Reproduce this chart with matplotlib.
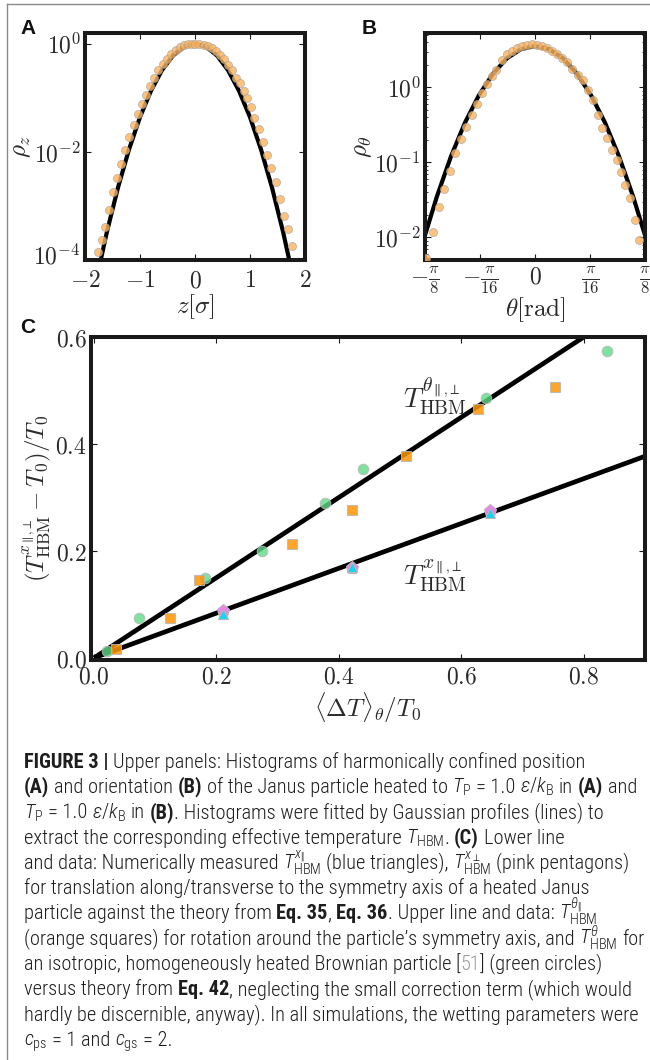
import numpy as np
import matplotlib
matplotlib.use("Agg")
import matplotlib.pyplot as plt
from matplotlib import font_manager as fm
from matplotlib.lines import Line2D
from matplotlib.transforms import ScaledTranslation
from matplotlib.ticker import NullLocator, NullFormatter, LogLocator

# ---------------- data ----------------
# Panel A: histogram of z (orange dots) and Gaussian fit (black line)
a_z = [-1.772, -1.698, -1.635, -1.561, -1.494, -1.420, -1.346, -1.265, -1.191, -1.117,
       -1.037, -0.969, -0.894, -0.820, -0.741, -0.667, -0.587, -0.513, -0.431, -0.352,
       -0.278, -0.204, -0.124, -0.050,
       0.007, 0.081, 0.155, 0.229, 0.303, 0.377, 0.451, 0.525, 0.605, 0.679,
       0.753, 0.815, 0.883, 0.944, 1.019, 1.080, 1.161, 1.235, 1.315, 1.389,
       1.469, 1.543, 1.624, 1.698, 1.759]
a_rho = [1.41e-4, 2.32e-4, 4.07e-4, 8.41e-4, 1.78e-3, 3.24e-3, 6.03e-3, 1.10e-2, 1.86e-2, 3.09e-2,
         4.95e-2, 7.59e-2, 0.1135, 0.166, 0.232, 0.324, 0.424, 0.533, 0.652, 0.783,
         0.879, 0.933, 0.977, 1.0,
         1.0, 0.989, 0.955, 0.902, 0.822, 0.724, 0.617, 0.513, 0.398, 0.324,
         0.234, 0.186, 0.132, 0.0977, 0.0676, 0.0427, 0.0263, 0.0155, 8.71e-3, 5.01e-3,
         2.75e-3, 1.32e-3, 6.61e-4, 3.72e-4, 1.82e-4]
a_fit_z = [-1.8, -1.6, -1.4, -1.2, -1.0, -0.8, -0.6, -0.4, -0.2, 0.0,
           0.2, 0.4, 0.6, 0.8, 1.0, 1.2, 1.4, 1.6, 1.8]
a_fit_rho = [4.0e-5, 3.36e-4, 2.19e-3, 1.11e-2, 0.0440, 0.135, 0.325, 0.607, 0.882, 1.0,
             0.882, 0.607, 0.325, 0.135, 0.0440, 1.11e-2, 2.19e-3, 3.36e-4, 4.0e-5]
a_xticks = [-2, -1, 0, 1, 2]
a_xticklabels = [r"$-2$", r"$-1$", r"$0$", r"$1$", r"$2$"]
a_yticks = [1e-4, 1e-2, 1.0]
a_yticklabels = [r"$10^{-4}$", r"$10^{-2}$", r"$10^{0}$"]

# Panel B: histogram of theta (orange dots) and Gaussian fit
b_theta = [-0.390, -0.363, -0.343, -0.325, -0.304, -0.286, -0.265, -0.246, -0.226, -0.206,
           -0.190, -0.1725, -0.155, -0.139, -0.119, -0.101, -0.083, -0.065, -0.048, -0.030,
           -0.012, 0.006, 0.024, 0.042, 0.060, 0.078, 0.096, 0.114, 0.132, 0.152,
           0.1726, 0.190, 0.208, 0.224, 0.240, 0.256, 0.274, 0.292, 0.306, 0.321,
           0.339, 0.357, 0.372]
b_rho = [5.25e-3, 0.0117, 0.0257, 0.0437, 0.0759, 0.132, 0.204, 0.295, 0.427, 0.603,
         0.832, 1.10, 1.41, 1.72, 2.34, 2.75, 3.09, 3.31, 3.51, 3.67,
         3.76, 3.72, 3.59, 3.35, 3.09, 2.79, 2.45, 2.16, 1.78, 1.48,
         1.26, 0.933, 0.684, 0.427, 0.288, 0.209, 0.148, 0.107, 0.0741, 0.0501,
         0.0331, 0.0170, 9.33e-3]
b_fit_theta = [-0.3927, -0.35, -0.30, -0.25, -0.20, -0.15, -0.10, -0.05, 0.0,
               0.05, 0.10, 0.15, 0.20, 0.25, 0.30, 0.35, 0.3927]
b_fit_rho = [0.0107, 0.0353, 0.120, 0.338, 0.787, 1.52, 2.44, 3.23, 3.55,
             3.23, 2.44, 1.52, 0.787, 0.338, 0.120, 0.0353, 0.0107]
b_xticks = [-np.pi / 8, -np.pi / 16, 0.0, np.pi / 16, np.pi / 8]
b_xticklabels = [r"$-\frac{\pi}{8}$", r"$-\frac{\pi}{16}$", r"$0$", r"$\frac{\pi}{16}$", r"$\frac{\pi}{8}$"]
b_yticks = [1e-2, 1e-1, 1.0]
b_yticklabels = [r"$10^{-2}$", r"$10^{-1}$", r"$10^{0}$"]

# Panel C: effective temperatures vs <dT>_theta / T0
c_green_x = [0.021, 0.074, 0.182, 0.274, 0.378, 0.439, 0.640, 0.838]
c_green_y = [0.012, 0.074, 0.150, 0.200, 0.289, 0.353, 0.486, 0.574]
c_orange_x = [0.036, 0.124, 0.171, 0.323, 0.421, 0.509, 0.628, 0.753]
c_orange_y = [0.017, 0.074, 0.145, 0.213, 0.277, 0.377, 0.465, 0.507]
c_tri_x = [0.211, 0.422, 0.647]
c_tri_y = [0.082, 0.170, 0.271]
c_pent_x = [0.211, 0.422, 0.647]
c_pent_y = [0.087, 0.168, 0.274]
c_line_x = [0.0, 0.9]
c_theta_line = [0.0, 0.675]
c_x_line = [0.0, 0.377]
c_xticks = [0.0, 0.2, 0.4, 0.6, 0.8]
c_xticklabels = [r"$0.0$", r"$0.2$", r"$0.4$", r"$0.6$", r"$0.8$"]
c_yticks = [0.0, 0.2, 0.4, 0.6]
c_yticklabels = [r"$0.0$", r"$0.2$", r"$0.4$", r"$0.6$"]

caption_lines = [
    [("FIGURE 3 |", "b"), (" Upper panels: Histograms of harmonically confined position", "r")],
    [("(A)", "b"), (" and orientation", "r"), (" (B)", "b"), (" of the Janus particle heated to", "r"),
     (r" $T_\mathrm{P}$", "m"), (" = 1.0", "r"), (r" $\epsilon/k_\mathrm{B}$", "m"), (" in", "r"),
     (" (A)", "b"), (" and", "r")],
    [(r"$T_\mathrm{P}$", "m"), (" = 1.0", "r"), (r" $\epsilon/k_\mathrm{B}$", "m"), (" in", "r"),
     (" (B)", "b"), (". Histograms were fitted by Gaussian profiles (lines) to", "r")],
    [("extract the corresponding effective temperature", "r"), (r" $T_\mathrm{HBM}$", "m"),
     (".", "r"), (" (C)", "b"), (" Lower line", "r")],
    [("and data: Numerically measured", "r"), (r" $T_\mathrm{HBM}^{x_\Vert}$", "m"),
     (" (blue triangles),", "r"), (r" $T_\mathrm{HBM}^{x_\perp}$", "m"), (" (pink pentagons)", "r")],
    [("for translation along/transverse to the symmetry axis of a heated Janus", "r")],
    [("particle against the theory from", "r"), (" Eq. 35", "b"), (",", "r"), (" Eq. 36", "b"),
     (". Upper line and data:", "r"), (r" $T_\mathrm{HBM}^{\theta_\Vert}$", "m")],
    [("(orange squares) for rotation around the particle\u2019s symmetry axis, and", "r"),
     (r" $T_\mathrm{HBM}^{\theta}$", "m"), (" for", "r")],
    [("an isotropic, homogeneously heated Brownian particle [", "r"), ("51", "g"),
     ("] (green circles)", "r")],
    [("versus theory from", "r"), (" Eq. 42", "b"),
     (", neglecting the small correction term (which would", "r")],
    [("hardly be discernible, anyway). In all simulations, the wetting parameters were", "r")],
    [(r"$c_\mathrm{ps}$", "m"), (" = 1 and", "r"), (r" $c_\mathrm{gs}$", "m"), (" = 2.", "r")],
]

# ---------------- caption font choice (a condensed sans if one is installed) ----------------
ttf = fm.fontManager.ttflist
names = {f.name for f in ttf}
cap_font, cap_stretch = "Liberation Sans", "normal"
picked = False
for nm in ["Liberation Sans Narrow", "Roboto Condensed", "Open Sans Condensed",
           "Noto Sans Condensed", "Noto Sans SemiCondensed", "Arial Narrow"]:
    if nm in names:
        cap_font, picked = nm, True
        break
if not picked:
    for f in ttf:
        lowname = (f.name + " " + f.fname).lower()
        if (("condensed" in lowname or "narrow" in lowname) and "extra" not in lowname
                and "ultra" not in lowname and f.style == "normal"
                and any(k in f.name for k in ["Noto Sans", "Roboto", "Open Sans", "Liberation"])
                and "CJK" not in f.name and "Mono" not in f.name):
            cap_font = f.name
            cap_stretch = f.stretch if f.stretch != "normal" else "condensed"
            picked = True
            break

plt.rcParams["mathtext.fontset"] = "cm"
plt.rcParams["mathtext.rm"] = cap_font + ":light"
plt.rcParams["mathtext.it"] = cap_font + ":italic:light"
plt.rcParams["mathtext.bf"] = cap_font + ":bold"
plt.rcParams["mathtext.sf"] = cap_font + ":light"

W, H = 650, 1060
fig = plt.figure(figsize=(W / 100, H / 100), dpi=100)
fig.patch.set_facecolor("white")

TXT = "#2b2b2b"
SPINE = "#1a1a1a"


def ax_at(l, t, r, b):
    return fig.add_axes([l / W, 1 - b / H, (r - l) / W, (b - t) / H])


def style(ax, xpad=3):
    for s in ax.spines.values():
        s.set_linewidth(2.9)
        s.set_color(SPINE)
    ax.tick_params(which="both", direction="in", top=True, right=True,
                   color=SPINE, width=0.8, labelsize=17, labelcolor=TXT, pad=3)
    ax.tick_params(axis="x", pad=xpad)
    ax.tick_params(which="major", length=4)
    ax.tick_params(which="minor", length=2, width=0.6)


dot_kw = dict(linestyle="none", marker="o", ms=5.8, mfc="#fdb35c", mec="#a0a0a0",
              mew=0.5, alpha=0.8, zorder=3)

# Panel A
axA = ax_at(85, 33, 305, 260)
axA.plot(a_fit_z, a_fit_rho, color="k", lw=3.0, zorder=2)
axA.plot(a_z, a_rho, **dot_kw)
axA.set_yscale("log")
axA.set_xlim(-2, 2)
axA.set_ylim(1e-4, 10 ** 0.2)
axA.set_xticks(a_xticks, labels=a_xticklabels)
axA.set_yticks(a_yticks, labels=a_yticklabels)
axA.yaxis.set_minor_locator(NullLocator())
style(axA, xpad=6)
# lift the lowest y label a little so it clears the "-2" x label (as in the reference)
lowlab = axA.get_yticklabels()[0]
lowlab.set_transform(lowlab.get_transform() + ScaledTranslation(0, 4 / 72, fig.dpi_scale_trans))
axA.set_xlabel(r"$z[\sigma]$", fontsize=18, color=TXT, labelpad=0)
axA.set_ylabel(r"$\rho_z$", fontsize=18, color=TXT, labelpad=0)

# Panel B
axB = ax_at(425, 33, 645, 260)
axB.plot(b_fit_theta, b_fit_rho, color="k", lw=3.0, zorder=2)
axB.plot(b_theta, b_rho, **dot_kw)
axB.set_yscale("log")
axB.set_xlim(-np.pi / 8, np.pi / 8)
axB.set_ylim(0.005, 5.3)
axB.set_xticks(b_xticks, labels=b_xticklabels)
axB.set_yticks(b_yticks, labels=b_yticklabels)
axB.yaxis.set_minor_locator(LogLocator(base=10, subs=np.arange(2, 10)))
axB.yaxis.set_minor_formatter(NullFormatter())
style(axB)
axB.set_xlabel(r"$\theta[\mathrm{rad}]$", fontsize=18, color=TXT, labelpad=0)
axB.set_ylabel(r"$\rho_\theta$", fontsize=18, color=TXT, labelpad=0)

# Panel C
axC = ax_at(91, 337, 645, 660)
axC.plot(c_line_x, c_theta_line, color="k", lw=3.4, zorder=2, solid_capstyle="butt")
axC.plot(c_line_x, c_x_line, color="k", lw=3.4, zorder=2, solid_capstyle="butt")
axC.plot(c_green_x, c_green_y, linestyle="none", marker="o", ms=7.6, mfc="#5edc84",
         mec="#b8b8b8", mew=0.8, alpha=0.8, zorder=3)
axC.plot(c_orange_x, c_orange_y, linestyle="none", marker="s", ms=7.4, mfc="#ff9505",
         mec="#b8b8b8", mew=0.8, alpha=0.85, zorder=4)
axC.plot(c_pent_x, c_pent_y, linestyle="none", marker="p", ms=9.5, mfc="#ee82ee",
         mec="#b8b8b8", mew=0.8, zorder=5)
axC.plot(c_tri_x, c_tri_y, linestyle="none", marker="^", ms=7.5, mfc="#12d6f2",
         mec="#b8b8b8", mew=0.8, zorder=6)
axC.set_xlim(-0.005, 0.9)
axC.set_ylim(-0.004, 0.6)
axC.set_xticks(c_xticks, labels=c_xticklabels)
axC.set_yticks(c_yticks, labels=c_yticklabels)
style(axC)
axC.text(0.505, 0.49, r"$T^{\theta_{\parallel{,}\perp}}_{\mathrm{HBM}}$", fontsize=20,
         color=TXT, va="center", ha="left")
axC.text(0.505, 0.152, r"$T^{x_{\parallel{,}\perp}}_{\mathrm{HBM}}$", fontsize=20,
         color=TXT, va="center", ha="left")
axC.set_xlabel(r"$\langle\Delta T\rangle_\theta/T_0$", fontsize=18, color=TXT, labelpad=2)
axC.set_ylabel(r"$(T^{x_{\parallel{,}\perp}}_{\mathrm{HBM}}-T_0)/T_0$", fontsize=18,
               color=TXT, labelpad=2)

# panel letters
for lx, ly, letter in [(20, 19, "A"), (362, 19, "B"), (20, 318, "C")]:
    fig.text(lx / W, 1 - ly / H, letter, family="Liberation Sans", fontweight="bold",
             fontsize=15, va="top", ha="left", color="#111111")

# page frame lines
fig.add_artist(Line2D([7 / W, 7 / W], [0, 1 - 4 / H], transform=fig.transFigure,
                      color="#8a8a8a", lw=1.0))
fig.add_artist(Line2D([7 / W, 1], [1 - 4 / H, 1 - 4 / H], transform=fig.transFigure,
                      color="#8a8a8a", lw=1.0))

# ---------------- caption ----------------
renderer = fig.canvas.get_renderer()
X0 = 24.0


def make_text(x, y, s, st, size):
    kw = dict(fontsize=size, family=[cap_font, "DejaVu Sans"], fontstretch=cap_stretch,
              color="#1e1e1e", va="baseline", ha="left", fontweight="light")
    if st == "b":
        kw["fontweight"] = "bold"
    if st == "g":
        kw["color"] = "#9a9a9a"
    if st == "m":
        kw["math_fontfamily"] = "custom"
    return fig.text(x / W, 1 - y / H, s, **kw)


def space_width(size):
    t1 = make_text(0, 0, "a a", "r", size)
    t2 = make_text(0, 0, "aa", "r", size)
    w = t1.get_window_extent(renderer).width - t2.get_window_extent(renderer).width
    t1.remove()
    t2.remove()
    return w


def place_line(segs, y, size, sp):
    x = X0
    made = []
    for s, st in segs:
        if s.startswith(" "):
            x += sp
            s = s.lstrip(" ")
        t = make_text(x, y, s, st, size)
        made.append(t)
        x += t.get_window_extent(renderer).width
    return x, made


# fit the caption size to the reference line lengths of a few lines
size0 = 13.0
sp0 = space_width(size0)
ref_idx = [0, 1, 5, 10]
ref_end = [585, 626, 598, 629]
got, want = 0.0, 0.0
for k, e in zip(ref_idx, ref_end):
    xe, made = place_line(caption_lines[k], 0, size0, sp0)
    for t in made:
        t.remove()
    got += xe - X0
    want += e - X0
cap_size = min(15.0, size0 * want / got)
sp = space_width(cap_size)
for i, segs in enumerate(caption_lines):
    place_line(segs, 767.6 + 25.3 * i, cap_size, sp)

fig.savefig("out.png", dpi=100, facecolor="white")
